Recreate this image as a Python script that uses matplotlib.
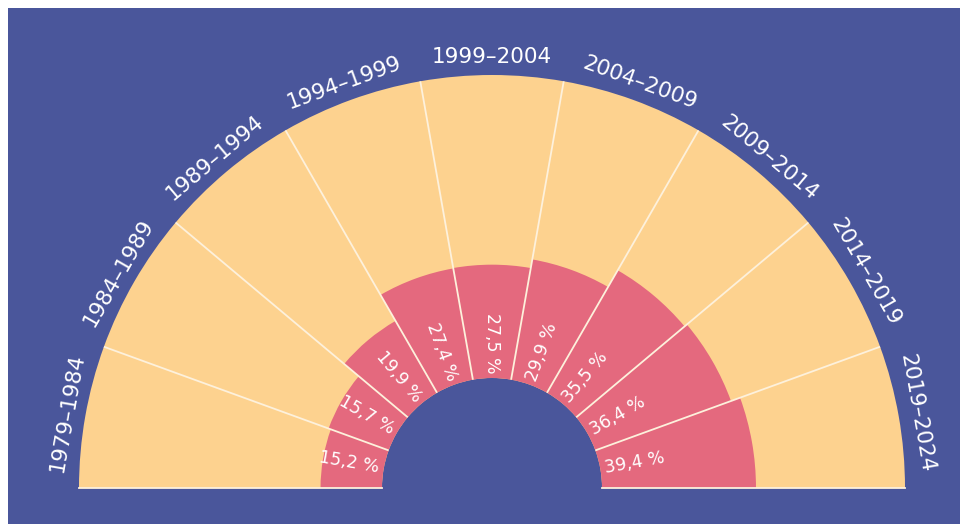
import numpy as np
import matplotlib
matplotlib.use("Agg")
import matplotlib.pyplot as plt
from matplotlib.patches import Wedge, Rectangle

# data
periods = ["1979–1984", "1984–1989", "1989–1994", "1994–1999", "1999–2004",
           "2004–2009", "2009–2014", "2014–2019", "2019–2024"]
shares = [15.2, 15.7, 19.9, 27.4, 27.5, 29.9, 35.5, 36.4, 39.4]

BLUE = "#4a569b"
SAND = "#fdd28f"
PINK = "#e4697e"
LINE = "#fdf1dc"

R = 413.0      # outer radius = 100 %
R0 = 64.0      # radius where 0 % would sit (area scale)
HOLE = 110.0   # blue hole in the middle

def radius(v):
    # area-proportional radius
    return np.sqrt(R0**2 + v / 100.0 * (R**2 - R0**2))

fig = plt.figure(figsize=(9.6, 5.24), dpi=100)
fig.patch.set_facecolor("white")
ax = fig.add_axes([0, 0, 1, 1])
ax.set_xlim(-492, 468)
ax.set_ylim(-36, 488)
ax.set_aspect("equal")
ax.axis("off")

ax.add_patch(Rectangle((-484, -36), 960, 516, facecolor=BLUE, edgecolor="none", zorder=0))

n = len(periods)
step = 180.0 / n
for i, (p, v) in enumerate(zip(periods, shares)):
    t2 = 180 - i * step
    t1 = t2 - step
    mid = (t1 + t2) / 2
    ax.add_patch(Wedge((0, 0), R, t1, t2, width=R - HOLE, facecolor=SAND, edgecolor="none", zorder=1))
    rv = radius(v)
    ax.add_patch(Wedge((0, 0), rv, t1, t2, width=rv - HOLE, facecolor=PINK, edgecolor="none", zorder=2))

    a = np.deg2rad(mid)
    # period label outside
    rl = R + 18
    ax.text(rl * np.cos(a), rl * np.sin(a), p, rotation=mid - 90, rotation_mode="anchor",
            ha="center", va="center", color="white", fontsize=15.5, zorder=4)
    # share label inside
    if mid < 90:
        rot = mid
    elif mid == 90:
        rot = -90
    else:
        rot = mid - 180
    rp = 145
    ax.text(rp * np.cos(a), rp * np.sin(a), ("%.1f %%" % v).replace(".", ","), rotation=rot,
            rotation_mode="anchor", ha="center", va="center", color="white", fontsize=12.5, zorder=4)

# separators
for i in range(1, n):
    a = np.deg2rad(i * step)
    ax.plot([HOLE * np.cos(a), R * np.cos(a)], [HOLE * np.sin(a), R * np.sin(a)],
            color=LINE, lw=1.3, zorder=3, solid_capstyle="butt")
ax.plot([-R, -HOLE], [0, 0], color=LINE, lw=1.3, zorder=3)
ax.plot([HOLE, R], [0, 0], color=LINE, lw=1.3, zorder=3)

fig.savefig("out.png", dpi=100, facecolor=fig.get_facecolor())
